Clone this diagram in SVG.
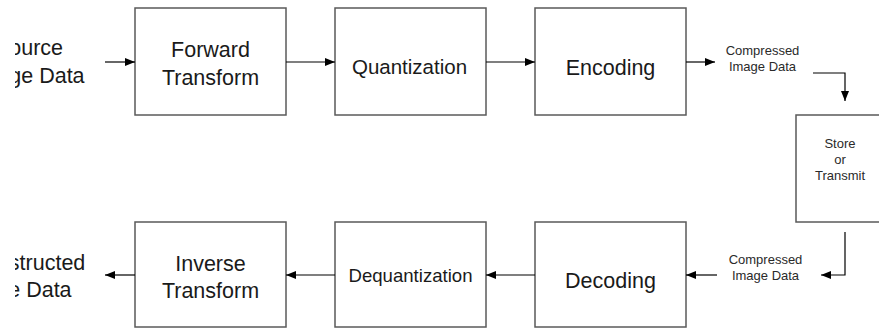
<svg xmlns="http://www.w3.org/2000/svg" width="879" height="329" viewBox="0 0 879 329">
<defs>
<marker id="ah" viewBox="0 0 10 8" refX="10" refY="4" markerWidth="10" markerHeight="8" markerUnits="userSpaceOnUse" orient="auto">
<path d="M0,0 L10,4 L0,8 Z" fill="#000"/>
</marker>
<clipPath id="leftcut">
<rect x="15" y="0" width="120" height="329"/>
</clipPath>
<style>
.box{fill:#fff;stroke:#5a5a5a;stroke-width:1.5}
.t{font-family:"Liberation Sans",Arial,sans-serif;fill:#1a1a1a;text-anchor:middle}
.big{font-size:21.5px}
.mid{font-size:20.5px}
.sm{font-size:13px;fill:#2a2a2a}
.c{fill:none;stroke:#000;stroke-width:1.2;marker-end:url(#ah)}
</style>
</defs>
<rect width="879" height="329" fill="#fff"/>

<g id="source" clip-path="url(#leftcut)">
<text class="t big" x="29" y="55">Source</text>
<text class="t big" x="29" y="83">Image Data</text>
</g>
<g id="forward">
<rect class="box" x="135" y="8" width="151" height="107"/>
<text class="t big" x="210.5" y="57">Forward</text>
<text class="t big" x="210.5" y="85">Transform</text>
</g>
<g id="quant">
<rect class="box" x="335" y="8" width="151" height="107"/>
<text class="t mid" x="409.5" y="73.5">Quantization</text>
</g>
<g id="encoding">
<rect class="box" x="535" y="8" width="151" height="107"/>
<text class="t big" x="610.5" y="75">Encoding</text>
</g>
<g id="cid1">
<text class="t sm" x="762.5" y="55">Compressed</text>
<text class="t sm" x="762.5" y="71">Image Data</text>
</g>
<g id="store">
<rect class="box" x="796" y="115" width="100" height="107"/>
<text class="t sm" x="840" y="148">Store</text>
<text class="t sm" x="840" y="164">or</text>
<text class="t sm" x="840" y="180">Transmit</text>
</g>
<g id="cid2">
<text class="t sm" x="765.5" y="264">Compressed</text>
<text class="t sm" x="765.5" y="280">Image Data</text>
</g>
<g id="decoding">
<rect class="box" x="535" y="222" width="151" height="105"/>
<text class="t big" x="610.5" y="288">Decoding</text>
</g>
<g id="dequant">
<rect class="box" x="335" y="222" width="151" height="105"/>
<text class="t" style="font-size:18.6px" x="410.5" y="282">Dequantization</text>
</g>
<g id="inverse">
<rect class="box" x="135" y="222" width="151" height="105"/>
<text class="t big" x="210.5" y="271">Inverse</text>
<text class="t big" x="210.5" y="298">Transform</text>
</g>
<g id="recon" clip-path="url(#leftcut)">
<text class="t big" x="16" y="270">Reconstructed</text>
<text class="t big" x="16" y="297">Image Data</text>
</g>

<g id="connectors">
<line class="c" x1="105" y1="62" x2="135" y2="62"/>
<line class="c" x1="286" y1="62" x2="335" y2="62"/>
<line class="c" x1="486" y1="62" x2="535" y2="62"/>
<line class="c" x1="686" y1="62" x2="715" y2="62"/>
<polyline class="c" points="813,73 845,73 845,101"/>
<polyline class="c" points="845,232 845,275 821,275"/>
<line class="c" x1="717" y1="275" x2="686" y2="275"/>
<line class="c" x1="535" y1="275" x2="486" y2="275"/>
<line class="c" x1="335" y1="275" x2="286" y2="275"/>
<line class="c" x1="135" y1="275" x2="105" y2="275"/>
</g>
</svg>
